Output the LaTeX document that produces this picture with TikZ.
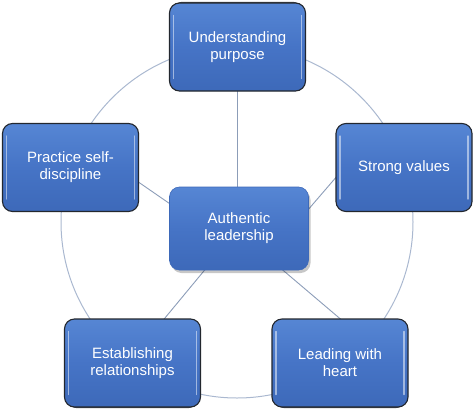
\documentclass[tikz,border=0pt]{standalone}
\usepackage{fontspec}
\setmainfont{Liberation Sans}
\usetikzlibrary{shadows,backgrounds}
\definecolor{boxtop}{HTML}{5686D4}
\definecolor{boxmid}{HTML}{4674C6}
\definecolor{boxbot}{HTML}{3D69B9}
\definecolor{ringcol}{HTML}{AAB8D0}
\definecolor{spokecol}{HTML}{8C9DB8}
\definecolor{edgecol}{HTML}{23272E}
\definecolor{shadcol}{HTML}{4A4A4A}
\newcommand{\glintpair}[1]{%
  \draw[glint] ([xshift=4.5pt,yshift=-13pt]#1.north west) -- ([xshift=4.5pt,yshift=13pt]#1.south west);
  \draw[glint] ([xshift=-4.5pt,yshift=-13pt]#1.north east) -- ([xshift=-4.5pt,yshift=13pt]#1.south east);}
\begin{document}
\begin{tikzpicture}[x=1pt,y=-1pt,
  petal/.style={rounded corners=10pt, draw=edgecol, line width=1.1pt,
    top color=boxtop, bottom color=boxbot, middle color=boxmid,
    minimum width=136pt, minimum height=88pt, text=white,
    font=\fontsize{15}{17}\selectfont, align=center, inner sep=0pt},
  hub/.style={petal, draw=boxbot, line width=0.6pt, minimum width=139pt, minimum height=83pt},
  link/.style={draw=spokecol, line width=0.9pt},
  ring/.style={draw=ringcol, line width=1pt},
  glint/.style={draw=white, draw opacity=0.5, line width=1.2pt, line cap=round}]
\useasboundingbox (0,0) rectangle (474,410);

\node[hub, general shadow={fill=black, fill opacity=0.22, shadow xshift=2pt, shadow yshift=-3pt}]
  (c) at (239,228.5) {Authentic\\leadership};
\node[petal, general shadow={fill=shadcol, shadow yshift=3pt, shadow scale=0.96}]
  (t) at (237.5,47) {Understanding\\purpose};
\node[petal, general shadow={fill=shadcol, shadow xshift=-3pt, shadow scale=0.94}]
  (l) at (70.5,167.5) {Practice self-\\discipline};
\node[petal, general shadow={fill=shadcol, shadow xshift=3pt, shadow scale=0.94}]
  (r) at (404,167.5) {Strong values};
\node[petal, general shadow={fill=shadcol, shadow yshift=-3pt, shadow scale=0.96}]
  (bl) at (132.5,363) {Establishing\\relationships};
\node[petal, general shadow={fill=shadcol, shadow yshift=-3pt, shadow scale=0.96}]
  (br) at (340,363) {Leading with\\heart};

\glintpair{t}\glintpair{l}\glintpair{r}\glintpair{bl}\glintpair{br}

\coordinate (ringc) at (237,222);
\coordinate (tA) at (237.5,88);  \coordinate (tB) at (237.5,190);
\coordinate (lA) at (134,179);   \coordinate (lB) at (176,208);
\coordinate (rA) at (338,175);   \coordinate (rB) at (307,211);
\coordinate (blA) at (160,324);  \coordinate (blB) at (208,266);
\coordinate (brA) at (344,322);  \coordinate (brB) at (278,266);

\begin{scope}[on background layer]
  \draw[ring] (ringc) circle[radius=176pt];
  \draw[link] (tA) -- (tB);
  \draw[link] (lA) -- (lB);
  \draw[link] (rA) -- (rB);
  \draw[link] (blA) -- (blB);
  \draw[link] (brA) -- (brB);
\end{scope}
\end{tikzpicture}
\end{document}
